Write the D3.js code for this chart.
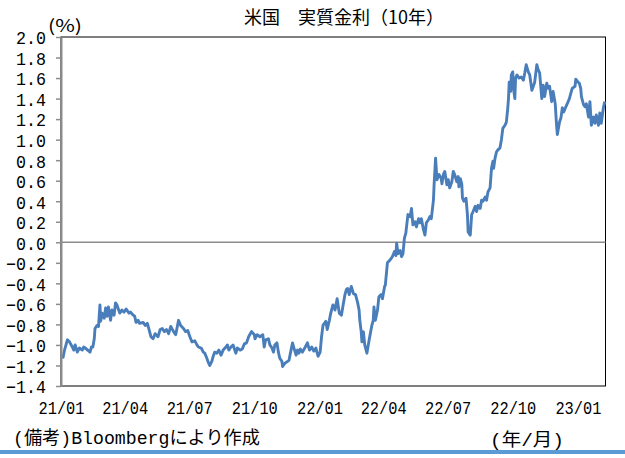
<!DOCTYPE html>
<html>
<head>
<meta charset="utf-8">
<script src="https://cdn.jsdelivr.net/npm/d3@7"></script>
<style>
body { margin: 0; background: #fff; }
svg { display: block; }
</style>
</head>
<body>
<svg id="chart" width="625" height="458"></svg>
<script>
// # DATA

// first day of the x range and last day shown
var startDate = new Date(2021, 0, 1);
var endDate = new Date(2023, 1, 9);

// days after 2021-01-01
var days = [1,3,5,9,12,16,18,20,23,26,30,32,36,41,43,45,47,48,51,53,55,56,58,61,63,65,67,70,72,75,77,79,83,86,89,92,96,98,102,104,106,109,111,116,119,122,124,127,130,
    133,137,140,143,146,149,152,155,159,162,166,169,173,176,179,182,185,189,192,194,198,201,203,206,208,210,213,215,217,220,223,226,229,233,235,237,240,243,247,249,253,256,259,262,265,269,273,
    274,277,281,285,287,289,293,295,298,300,302,305,307,309,312,313,316,320,322,324,327,329,332,334,336,338,341,345,348,351,354,357,360,363,366,368,370,374,376,379,381,384,387,390,393,396,399,401,403,
    405,407,410,413,416,419,421,422,424,425,427,429,432,434,436,439,441,442,444,447,449,452,454,457,458,461,465,468,471,473,474,476,479,481,483,485,487,488,490,493,495,497,500,502,505,507,509,512,514,516,519,521,523,526,527,529,531,534,537,
    538,540,542,545,547,549,552,554,556,559,561,562,564,566,567,569,572,574,575,578,580,582,585,587,589,592,594,596,599,601,603,606,608,610,611,613,615,617,620,622,624,627,629,631,632,633,635,636,638,639,641,642,644,647,650,653,655,657,660,662,
    665,667,669,672,674,676,679,681,683,686,688,690,693,695,698,700,701,704,706,708,710,713,715,718,720,722,726,727,730,732,734,735,738,740,742,745,747,749,752,754,756,759,761,763,766,768];

// US real yield, 10 year (%)
var realRate = [-1.10,-1.12,-1.05,-0.95,-0.97,-1.02,-1.05,-1.00,-1.07,-1.03,-1.05,-1.02,-1.04,-1.07,-1.02,-1.02,-0.94,-0.84,-0.81,-0.82,-0.61,-0.77,-0.69,-0.74,-0.64,-0.72,-0.63,-0.76,-0.66,-0.71,-0.59,-0.61,-0.69,-0.66,-0.68,-0.65,-0.69,-0.68,-0.71,-0.72,-0.78,-0.76,-0.79,-0.78,-0.81,-0.79,-0.84,-0.92,-0.94,
    -0.89,-0.92,-0.85,-0.84,-0.87,-0.85,-0.89,-0.82,-0.87,-0.90,-0.76,-0.81,-0.84,-0.87,-0.86,-0.92,-0.97,-0.96,-1.00,-1.02,-1.03,-1.07,-1.08,-1.13,-1.17,-1.20,-1.16,-1.11,-1.07,-1.08,-1.05,-1.10,-1.05,-1.02,-1.00,-1.05,-1.02,-1.00,-1.08,-1.03,-1.05,-1.04,-0.99,-0.98,-0.92,-0.87,-0.90,
    -0.94,-0.90,-0.92,-0.90,-1.02,-0.95,-0.94,-1.00,-1.03,-1.07,-1.00,-0.98,-1.07,-1.13,-1.16,-1.21,-1.18,-1.16,-1.15,-1.08,-0.98,-1.03,-1.10,-1.05,-1.08,-1.04,-1.07,-1.02,-0.98,-1.05,-1.02,-1.06,-1.03,-1.11,-1.07,-0.92,-0.81,-0.77,-0.85,-0.76,-0.69,-0.61,-0.66,-0.55,-0.69,-0.71,-0.59,-0.51,-0.46,
    -0.45,-0.51,-0.43,-0.50,-0.51,-0.59,-0.66,-0.76,-0.87,-0.97,-0.87,-1.00,-1.08,-1.00,-0.92,-0.81,-0.76,-0.63,-0.76,-0.66,-0.53,-0.51,-0.55,-0.43,-0.42,-0.20,-0.17,-0.14,-0.09,-0.13,-0.01,-0.11,-0.08,-0.14,-0.11,0.04,0.09,0.15,0.27,0.25,0.33,0.17,0.20,0.15,0.23,0.19,0.23,0.12,0.07,0.19,0.22,0.25,0.23,0.41,0.57,0.82,0.61,0.66,0.62,
    0.57,0.66,0.69,0.56,0.61,0.53,0.59,0.69,0.66,0.59,0.64,0.54,0.62,0.57,0.43,0.40,0.43,0.27,0.10,0.07,0.27,0.30,0.35,0.30,0.36,0.33,0.41,0.40,0.44,0.41,0.49,0.53,0.72,0.79,0.72,0.82,0.88,0.90,0.92,1.00,1.11,1.14,1.17,1.31,1.40,1.56,1.47,1.63,1.66,1.50,1.40,1.60,1.63,1.60,1.61,1.58,1.65,1.73,1.66,1.63,
    1.48,1.52,1.56,1.73,1.68,1.65,1.40,1.53,1.42,1.55,1.50,1.52,1.37,1.47,1.35,1.13,1.05,1.17,1.21,1.31,1.27,1.32,1.35,1.40,1.45,1.50,1.52,1.59,1.56,1.55,1.50,1.42,1.34,1.32,1.35,1.22,1.37,1.14,1.22,1.16,1.24,1.14,1.26,1.16,1.31,1.37];

var yTicks = [-1.4, -1.2, -1.0, -0.8, -0.6, -0.4, -0.2, 0.0, 0.2, 0.4, 0.6, 0.8, 1.0, 1.2, 1.4, 1.6, 1.8, 2.0];
var xTickDates = ["2021-01-01", "2021-04-01", "2021-07-01", "2021-10-01", "2022-01-01", "2022-04-01", "2022-07-01", "2022-10-01", "2023-01-01"];

var titleText = "米国　実質金利（10年）";
var unitText = "(%)";
var noteText = "(備考)Bloombergにより作成";
var xUnitText = "(年/月)";

// # LAYOUT
var plotLeft = 61, plotRight = 605.5, plotTop = 37, plotBottom = 386;
var monoFont = "'Liberation Mono', 'Noto Sans CJK JP', monospace";
var cjkFont = "'Noto Sans CJK JP', sans-serif";

var svg = d3.select("#chart");

var x = d3.scaleTime().domain([startDate, endDate]).range([plotLeft, plotRight]);
var y = d3.scaleLinear().domain([-1.4, 2.0]).range([plotBottom, plotTop]);

init();

// # FUNCTIONS

function init(){
    setBackground();
    drawFrame();
    drawLine();
    drawYAxis();
    drawXAxis();
    drawTexts();
    return 0;
}

function setBackground(){
    svg.append("rect")
        .attr("x", 0).attr("y", 0)
        .attr("width", 625).attr("height", 458)
        .attr("fill", "white");
    // blue rule at the bottom of the page
    svg.append("line")
        .attr("x1", 0).attr("x2", 625)
        .attr("y1", 452).attr("y2", 452)
        .attr("stroke", "#5b9bd5")
        .attr("stroke-width", 4);
    return 0;
}

function drawFrame(){
    svg.append("rect")
        .attr("x", plotLeft).attr("y", plotTop)
        .attr("width", plotRight - plotLeft)
        .attr("height", plotBottom - plotTop)
        .attr("fill", "none")
        .attr("stroke", "#000")
        .attr("stroke-width", 1);
    // zero line (category axis crossing at 0)
    svg.append("line")
        .attr("x1", plotLeft).attr("x2", plotRight)
        .attr("y1", y(0)).attr("y2", y(0))
        .attr("stroke", "#8c8c8c")
        .attr("stroke-width", 1.5);
    return 0;
}

function drawLine(){
    var pts = days.map(function(d, i){
        return { date: d3.timeDay.offset(startDate, d), v: realRate[i] };
    });
    var line = d3.line()
        .x(function(d){ return x(d.date); })
        .y(function(d){ return y(d.v); });
    svg.append("path")
        .datum(pts)
        .attr("d", line)
        .attr("fill", "none")
        .attr("stroke", "#4a7ebb")
        .attr("stroke-width", 2.9)
        .attr("stroke-linejoin", "round");
    return 0;
}

function drawYAxis(){
    var fmt = d3.format(".1f");
    var g = svg.append("g")
        .attr("transform", "translate(" + plotLeft + ",0)")
        .call(d3.axisLeft(y).tickValues(yTicks).tickSize(5).tickSizeOuter(0).tickPadding(10).tickFormat(fmt));
    g.select(".domain").attr("stroke", "#8c8c8c").attr("stroke-width", 2);
    g.selectAll(".tick line").attr("stroke", "#8c8c8c").attr("stroke-width", 1.5);
    g.selectAll(".tick text")
        .attr("fill", "#000")
        .attr("dy", "0.38em")
        .style("font-family", monoFont)
        .style("font-size", "18px")
        .attr("textLength", function(d){ return fmt(d).length * 10; })
        .attr("lengthAdjust", "spacingAndGlyphs");
    return 0;
}

function drawXAxis(){
    var parse = d3.timeParse("%Y-%m-%d");
    var g = svg.append("g")
        .attr("transform", "translate(0," + plotBottom + ")")
        .call(d3.axisBottom(x).tickValues(xTickDates.map(parse)).tickSize(0).tickPadding(15).tickFormat(d3.timeFormat("%y/%m")));
    g.select(".domain").remove();
    g.selectAll(".tick text")
        .attr("fill", "#000")
        .style("font-family", monoFont)
        .style("font-size", "19px")
        .attr("textLength", 46)
        .attr("lengthAdjust", "spacingAndGlyphs");
    return 0;
}

function drawTexts(){
    svg.append("text")
        .attr("x", 344).attr("y", 24)
        .attr("text-anchor", "middle")
        .style("font-family", cjkFont)
        .style("font-size", "18px")
        .text(titleText);
    svg.append("text")
        .attr("x", 48).attr("y", 32)
        .style("font-family", cjkFont)
        .style("font-size", "17px")
        .attr("textLength", 34)
        .attr("lengthAdjust", "spacingAndGlyphs")
        .text(unitText);
    svg.append("text")
        .attr("x", 13).attr("y", 444)
        .style("font-family", monoFont)
        .style("font-size", "18px")
        .attr("textLength", 247)
        .attr("lengthAdjust", "spacingAndGlyphs")
        .text(noteText);
    svg.append("text")
        .attr("x", 490).attr("y", 446)
        .style("font-family", monoFont)
        .style("font-size", "18px")
        .attr("textLength", 74)
        .attr("lengthAdjust", "spacingAndGlyphs")
        .text(xUnitText);
    return 0;
}
</script>
</body>
</html>
